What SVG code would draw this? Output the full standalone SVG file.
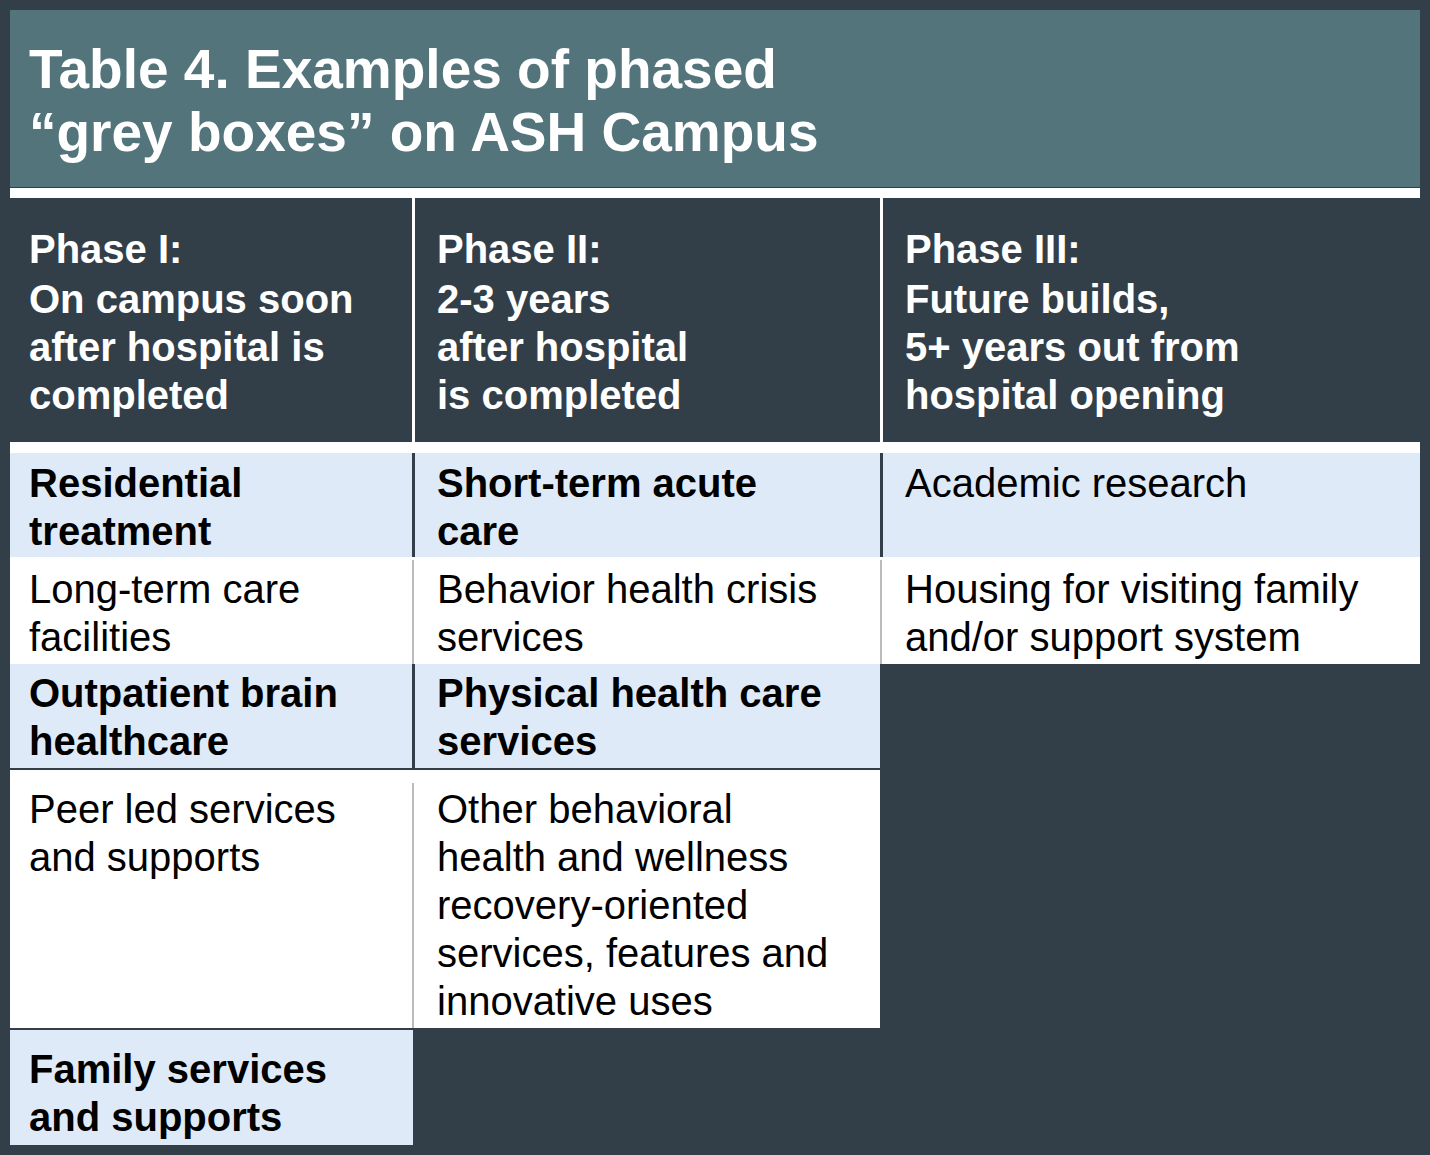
<svg xmlns="http://www.w3.org/2000/svg" width="1430" height="1155" viewBox="0 0 1430 1155">
<style>
text{font-family:"Liberation Sans",Arial,sans-serif;font-size:40px;fill:#000}
.b{font-weight:bold}
.h{font-weight:bold;fill:#fff}
.t{font-weight:bold;fill:#fff;font-size:55px}
.lb{fill:#deeaf7}
.w{fill:#fff}
</style>
<rect width="1430" height="1155" fill="#333f48"/>
<g id="title"><rect x="10" y="10" width="1410" height="177" fill="#53747b"/>
<text class="t" x="29" y="88">Table 4. Examples of phased</text>
<text class="t" x="29" y="151">“grey boxes” on ASH Campus</text></g>
<rect x="10" y="188" width="1410" height="10" fill="#fff"/>
<g id="header">
<rect x="412" y="198" width="3" height="244" fill="#fff"/>
<rect x="880" y="198" width="3" height="244" fill="#fff"/>
<text class="h" x="29" y="263">Phase I:</text>
<text class="h" x="29" y="313">On campus soon</text>
<text class="h" x="29" y="361">after hospital is</text>
<text class="h" x="29" y="409">completed</text>
<text class="h" x="437" y="263">Phase II:</text>
<text class="h" x="437" y="313">2-3 years</text>
<text class="h" x="437" y="361">after hospital</text>
<text class="h" x="437" y="409">is completed</text>
<text class="h" x="905" y="263">Phase III:</text>
<text class="h" x="905" y="313">Future builds,</text>
<text class="h" x="905" y="361">5+ years out from</text>
<text class="h" x="905" y="409">hospital opening</text>
</g>
<rect x="10" y="442" width="1410" height="11" fill="#fff"/>
<g id="row1">
<rect class="lb" x="10" y="453" width="402" height="104"/>
<rect class="lb" x="415" y="453" width="465" height="104"/>
<rect class="lb" x="883" y="453" width="537" height="104"/>
<text class="b" x="29" y="497">Residential</text><text class="b" x="29" y="545">treatment</text>
<text class="b" x="437" y="497">Short-term acute</text><text class="b" x="437" y="545">care</text>
<text x="905" y="497">Academic research</text>
</g>
<g id="row2">
<rect class="w" x="10" y="557" width="1410" height="107"/>
<rect x="412" y="560" width="2" height="104" fill="#bbb"/>
<rect x="880" y="560" width="2" height="104" fill="#bbb"/>
<text x="29" y="603">Long-term care</text><text x="29" y="651">facilities</text>
<text x="437" y="603">Behavior health crisis</text><text x="437" y="651">services</text>
<text x="905" y="603">Housing for visiting family</text><text x="905" y="651">and/or support system</text>
</g>
<g id="row3">
<rect class="lb" x="10" y="664" width="402" height="104"/>
<rect class="lb" x="415" y="664" width="465" height="104"/>
<text class="b" x="29" y="707">Outpatient brain</text><text class="b" x="29" y="755">healthcare</text>
<text class="b" x="437" y="707">Physical health care</text><text class="b" x="437" y="755">services</text>
</g>
<g id="row4">
<rect class="w" x="10" y="770" width="870" height="258"/>
<rect x="412" y="783" width="2" height="245" fill="#bbb"/>
<text x="29" y="823">Peer led services</text><text x="29" y="871">and supports</text>
<text x="437" y="823">Other behavioral</text><text x="437" y="871">health and wellness</text>
<text x="437" y="919">recovery-oriented</text><text x="437" y="967">services, features and</text>
<text x="437" y="1015">innovative uses</text>
</g>
<g id="row5">
<rect class="lb" x="10" y="1030" width="403" height="115"/>
<text class="b" x="29" y="1083">Family services</text><text class="b" x="29" y="1131">and supports</text>
</g>
<g id="connectors"/>
</svg>
